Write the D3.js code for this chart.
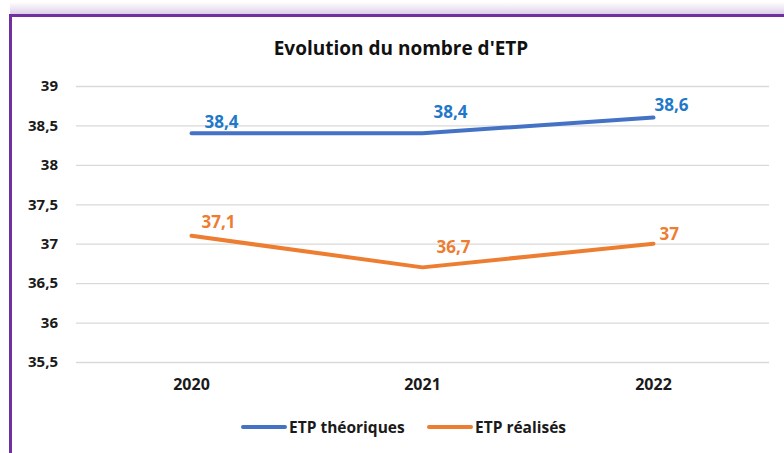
<!DOCTYPE html>
<head>
<meta charset="utf-8">
<script src='https://d3js.org/d3.v7.min.js'></script>
<title>Evolution du nombre d'ETP</title>
<style>
  body { margin: 0; background: #fff; }
  svg text { font-family: 'Open Sans', sans-serif; font-weight: bold; }
</style>
</head>

<body>
    <div id="graph_container"></div>

    <script>
    // chart values
    const years = ['2020', '2021', '2022'];
    const theoriques = [38.4, 38.4, 38.6];
    const realises = [37.1, 36.7, 37.0];
    const yTicks = [35.5, 36, 36.5, 37, 37.5, 38, 38.5, 39];
    const seriesNames = ['ETP théoriques', 'ETP réalisés'];

    // label nudges (dx, dy from the point), same as the hand-placed labels
    const labelNudge = {
        'ETP théoriques': [[13, -5], [11, -15], [1, -7]],
        'ETP réalisés': [[10, -8], [14, -14], [6, -4]]
    };

    const series = [
        { name: seriesNames[0], values: theoriques, color: '#4472C4', label: '#1F78C8' },
        { name: seriesNames[1], values: realises, color: '#ED7D31', label: '#ED7D31' }
    ];

    const W = 784, H = 453;
    const fmt = v => String(v).replace('.', ',');

    const svg = d3.select('#graph_container').append('svg')
        .attr('width', W).attr('height', H);

    // top shadow + purple frame
    const defs = svg.append('defs');
    const grad = defs.append('linearGradient').attr('id', 'shadow')
        .attr('x1', 0).attr('y1', 0).attr('x2', 0).attr('y2', 1);
    grad.append('stop').attr('offset', '0%').attr('stop-color', '#ffffff');
    grad.append('stop').attr('offset', '100%').attr('stop-color', '#ddd0e8');
    svg.append('rect').attr('x', 10).attr('y', 2).attr('width', W).attr('height', 12)
        .attr('fill', 'url(#shadow)');
    svg.append('rect').attr('x', 10.5).attr('y', 15.5).attr('width', W + 10).attr('height', H + 10)
        .attr('fill', '#fff').attr('stroke', '#7030A0').attr('stroke-width', 3);

    const x = d3.scaleBand().domain(years).range([76, 769]);
    const y = d3.scaleLinear().domain([35.5, 39]).range([362, 86]);

    // title
    svg.append('text')
        .attr('x', 401).attr('y', 55)
        .attr('text-anchor', 'middle')
        .style('font-size', '19px')
        .attr('fill', '#111')
        .text("Evolution du nombre d'ETP");

    // gridlines + y labels
    const yAxis = svg.append('g')
        .attr('transform', 'translate(76,0)')
        .call(d3.axisLeft(y).tickValues(yTicks).tickSize(-693).tickPadding(18).tickFormat(fmt));
    yAxis.select('.domain').remove();
    yAxis.selectAll('.tick line').attr('stroke', '#d9d9d9').attr('stroke-width', 1.3);
    yAxis.selectAll('.tick text')
        .style('font-size', '15px').attr('fill', '#1a1a1a');

    // x labels
    const xAxis = svg.append('g')
        .attr('transform', 'translate(0,362)')
        .call(d3.axisBottom(x).tickSize(0).tickPadding(17));
    xAxis.select('.domain').remove();
    xAxis.selectAll('.tick text')
        .style('font-size', '16px').attr('fill', '#1a1a1a');

    const cx = d => x(d) + x.bandwidth() / 2;

    series.forEach(function(s) {
        const pts = years.map((yr, i) => ({ year: yr, v: s.values[i], i: i }));
        const line = d3.line()
            .x(d => cx(d.year))
            .y(d => y(d.v));

        svg.append('path')
            .datum(pts)
            .attr('d', line)
            .style('fill', 'none')
            .style('stroke', s.color)
            .style('stroke-width', 4)
            .style('stroke-linecap', 'round')
            .style('stroke-linejoin', 'round');

        svg.append('g').selectAll('text')
            .data(pts)
            .enter()
            .append('text')
                .attr('x', d => cx(d.year) + labelNudge[s.name][d.i][0])
                .attr('y', d => y(d.v) + labelNudge[s.name][d.i][1])
                .attr('fill', s.label)
                .style('font-size', '17px')
                .text(d => fmt(d.v));
    });

    // legend
    const legend = svg.append('g').attr('transform', 'translate(0,427)');
    const legX = [243, 429];
    series.forEach(function(s, i) {
        legend.append('line')
            .attr('x1', legX[i]).attr('x2', legX[i] + 42)
            .attr('y1', 0).attr('y2', 0)
            .attr('stroke', s.color).attr('stroke-width', 4)
            .attr('stroke-linecap', 'round');
        legend.append('text')
            .attr('x', legX[i] + 46).attr('y', 5.5)
            .style('font-size', '15.5px')
            .attr('fill', '#1a1a1a')
            .text(s.name);
    });
    </script>
</body>
